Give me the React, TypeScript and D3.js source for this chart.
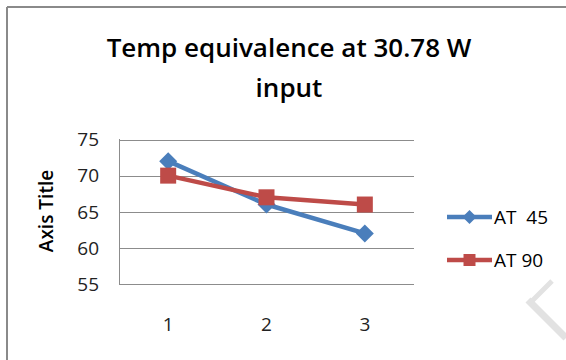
import React from "react";
import * as d3 from "d3";

const categories = ["1", "2", "3"];
const seriesNames = ["AT  45", "AT 90"];
const at45 = [72, 66, 62];
const at90 = [70, 67, 66];
const yTicks = [55, 60, 65, 70, 75];
const titleLines = ["Temp equivalence at 30.78 W", "input"];
const axisTitle = "Axis Title";

const W = 566;
const H = 360;
const FONT = "'Open Sans', 'Liberation Sans', sans-serif";
const BLUE = "#4a7ebb";
const RED = "#be4b48";

const diamondPath = (r: number) => `M0,${-r}L${r},0L0,${r}L${-r},0Z`;
const squarePath = (r: number) => `M${-r},${-r}H${r}V${r}H${-r}Z`;

export default function App() {
  const x = d3.scalePoint<string>().domain(categories).range([119, 414]).padding(0.5);
  const y = d3.scaleLinear().domain([55, 75]).range([284, 139.5]);
  const line = d3
    .line<number>()
    .x((_, i) => x(categories[i]) as number)
    .y((d) => y(d));
  const series = [
    { name: seriesNames[0], values: at45, color: BLUE, marker: diamondPath(9), lmarker: diamondPath(7) },
    { name: seriesNames[1], values: at90, color: RED, marker: squarePath(8), lmarker: squarePath(6) },
  ];
  const legendY = [217, 260];

  return (
    <svg
      width={W}
      height={H}
      style={{ position: "absolute", left: 0, top: 0, background: "#fff" }}
      fontFamily={FONT}
    >
      <rect x={0} y={0} width={W} height={H} fill="#fff" />
      {/* chart frame (top and left visible) */}
      <line x1={7} y1={7} x2={W} y2={7} stroke="#8a8a8a" strokeWidth={2} />
      <line x1={7} y1={7} x2={7} y2={H} stroke="#8a8a8a" strokeWidth={2} />

      {/* faint watermark fragment */}
      <g stroke="#e2e2e2" strokeLinecap="butt" fill="none">
        <line x1={528} y1={300} x2={566} y2={338} strokeWidth={7} />
        <line x1={531} y1={302} x2={552} y2={281} strokeWidth={5} />
      </g>

      {/* title */}
      {titleLines.map((t, i) => (
        <text
          key={i}
          x={289}
          y={57 + i * 40}
          textAnchor="middle"
          fontSize={26}
          fontWeight={600}
          fill="#000"
        >
          {t}
        </text>
      ))}

      {/* gridlines */}
      {yTicks.map((t) => (
        <line
          key={t}
          x1={119}
          x2={414}
          y1={Math.round(y(t)) + 0.5}
          y2={Math.round(y(t)) + 0.5}
          stroke="#8c8c8c"
          strokeWidth={1}
        />
      ))}
      <line x1={119.5} x2={119.5} y1={139} y2={285} stroke="#8c8c8c" strokeWidth={1} />

      {/* y tick labels */}
      {yTicks.map((t) => (
        <text
          key={t}
          x={99}
          y={y(t)}
          dy="0.36em"
          textAnchor="end"
          fontSize={19}
          fill="#222"
        >
          {t}
        </text>
      ))}
      {/* x tick labels */}
      {categories.map((c) => (
        <text
          key={c}
          x={x(c)}
          y={331}
          textAnchor="middle"
          fontSize={19}
          fill="#222"
        >
          {c}
        </text>
      ))}

      {/* axis title */}
      <text
        transform={`translate(53,211) rotate(-90)`}
        textAnchor="middle"
        fontSize={19}
        fontWeight={600}
        fill="#000"
      >
        {axisTitle}
      </text>

      {/* series */}
      {series.map((s) => (
        <g key={s.name}>
          <path
            d={line(s.values) || ""}
            fill="none"
            stroke={s.color}
            strokeWidth={4.5}
            strokeLinejoin="round"
          />
          {s.values.map((v, i) => (
            <path
              key={i}
              d={s.marker}
              transform={`translate(${x(categories[i])},${y(v)})`}
              fill={s.color}
            />
          ))}
        </g>
      ))}

      {/* legend */}
      {series.map((s, i) => (
        <g key={s.name}>
          <line
            x1={447}
            x2={492}
            y1={legendY[i]}
            y2={legendY[i]}
            stroke={s.color}
            strokeWidth={4.5}
          />
          <path
            d={s.lmarker}
            transform={`translate(469.5,${legendY[i]})`}
            fill={s.color}
          />
          <text
            x={494}
            y={legendY[i]}
            dy="0.36em"
            fontSize={19}
            fill="#000"
            style={{ whiteSpace: "pre" }}
          >
            {s.name}
          </text>
        </g>
      ))}
    </svg>
  );
}
